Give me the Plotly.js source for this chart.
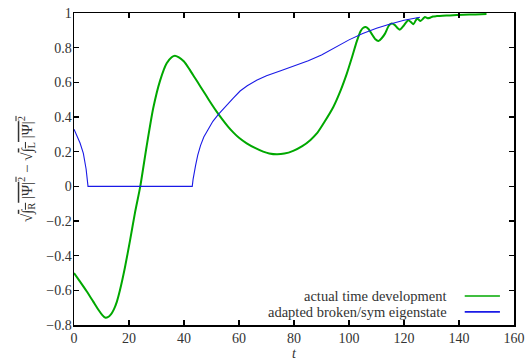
<!DOCTYPE html>
<html>
<head>
<meta charset="utf-8">
<script src="https://cdn.plot.ly/plotly-3.0.1.min.js"></script>
<style>
  html, body { margin: 0; padding: 0; background: #fff; }
  #chart { width: 527px; height: 362px; }
</style>
</head>
<body>
<div id="chart"></div>
<script>
// Asymmetry of the wave function between right and left well over time
const actualT = [0, 2, 4.6, 7, 9, 10.3, 11.3, 12.3, 13.5, 14.5, 15.6, 16.7, 18.5, 20.4, 22.2, 24.1, 26.4, 28.8, 31.3, 33.7, 35.5, 36.7, 38, 40, 42, 44, 46, 48, 50, 52, 54, 56, 58, 60, 62.8, 66, 68.8, 71, 73.7, 76.5, 79.7, 83, 86, 88.3, 91, 94.3, 97, 99.2, 101, 102.8, 104.2, 105.2, 106.1, 107.1, 108.3, 109.6, 110.7, 111.8, 113.1, 114.4, 115.5, 116.7, 117.7, 118.5, 119.8, 121.5, 122.5, 123.4, 124.2, 124.8, 126, 127, 127.6, 128.6, 129.5, 130.5, 131.9, 134, 136.7, 141.5, 146, 150];
const actualV = [-0.50, -0.545, -0.605, -0.665, -0.715, -0.743, -0.757, -0.755, -0.737, -0.71, -0.665, -0.60, -0.47, -0.31, -0.15, 0, 0.23, 0.45, 0.61, 0.71, 0.745, 0.754, 0.745, 0.72, 0.675, 0.625, 0.575, 0.525, 0.475, 0.428, 0.385, 0.345, 0.31, 0.28, 0.248, 0.22, 0.2, 0.19, 0.185, 0.189, 0.205, 0.232, 0.268, 0.305, 0.37, 0.458, 0.555, 0.65, 0.74, 0.835, 0.895, 0.915, 0.919, 0.908, 0.878, 0.848, 0.838, 0.853, 0.881, 0.925, 0.939, 0.93, 0.912, 0.904, 0.925, 0.958, 0.948, 0.935, 0.955, 0.968, 0.954, 0.968, 0.977, 0.97, 0.973, 0.98, 0.982, 0.984, 0.986, 0.99, 0.992, 0.994];

const adaptedT = [0, 1, 2.2, 3.4, 4.4, 5.1, 43.0, 43.3, 43.7, 44.2, 45, 46, 47.2, 48.7, 50.5, 52.5, 55.5, 58, 60.4, 63, 66.4, 70, 74.9, 80, 85.2, 90, 95, 100, 105, 110, 115, 120, 125.8];
const adaptedV = [0.33, 0.29, 0.25, 0.19, 0.10, 0, 0, 0.04, 0.08, 0.12, 0.18, 0.235, 0.285, 0.33, 0.375, 0.415, 0.47, 0.51, 0.55, 0.58, 0.612, 0.638, 0.665, 0.695, 0.725, 0.758, 0.8, 0.845, 0.882, 0.912, 0.937, 0.958, 0.975];

const legendLabels = ['actual time development', 'adapted broken/sym eigenstate'];
const green = '#00a800';
const blue = '#1a1ae6';

const xTicks = [0, 20, 40, 60, 80, 100, 120, 140, 160];
const yTicks = [-0.8, -0.6, -0.4, -0.2, 0, 0.2, 0.4, 0.6, 0.8, 1];

const serif = 'Liberation Serif, DejaVu Serif, serif';

const traces = [
  { x: actualT, y: actualV, mode: 'lines', name: legendLabels[0],
    line: { color: green, width: 2, shape: 'spline', smoothing: 0.6 } },
  { x: adaptedT, y: adaptedV, mode: 'lines', name: legendLabels[1],
    line: { color: blue, width: 1.1 } }
];

const axisCommon = {
  showgrid: false, zeroline: false, showline: true, linecolor: '#000', linewidth: 1.5,
  mirror: 'ticks', ticks: 'inside', ticklen: 5, tickcolor: '#000', tickwidth: 1.2,
  tickfont: { family: serif, size: 14, color: '#333' }
};

// Legend drawn as right-aligned labels followed by line samples
const legendRows = [0.093, 0.042];
const annotations = legendLabels.map((txt, i) => ({
  xref: 'paper', yref: 'paper', x: 0.852, y: legendRows[i], xanchor: 'right', yanchor: 'middle',
  text: txt, showarrow: false, font: { family: serif, size: 14.5, color: '#333' }
}));
const shapes = [green, blue].map((c, i) => ({
  type: 'line', xref: 'paper', yref: 'paper', x0: 0.888, x1: 0.968, y0: legendRows[i], y1: legendRows[i],
  line: { color: c, width: i === 0 ? 1.4 : 1.6 }
}));

const layout = {
  width: 527, height: 362,
  margin: { l: 74, r: 13, t: 13, b: 37 },
  paper_bgcolor: '#fff', plot_bgcolor: '#fff',
  showlegend: false,
  xaxis: Object.assign({}, axisCommon, {
    range: [0, 160], tickvals: xTicks, ticktext: xTicks.map(String),
    title: { text: '<i>t</i>', font: { family: serif, size: 14, color: '#333' }, standoff: 3 }
  }),
  yaxis: Object.assign({}, axisCommon, {
    range: [-0.8, 1], tickvals: yTicks, ticktext: yTicks.map(v => (v < 0 ? '\u2212' + Math.abs(v) : String(v))),
    ticklabelstandoff: -2,
    title: {
      text: '\u221A<span style="text-decoration:overline">\u222B<sub>R</sub> |\u03A8|<sup>2</sup></span> \u2212 \u221A<span style="text-decoration:overline">\u222B<sub>L</sub> |\u03A8|<sup>2</sup></span>',
      font: { family: serif, size: 15, color: '#333' }, standoff: 10
    }
  }),
  annotations: annotations,
  shapes: shapes
};

Plotly.newPlot('chart', traces, layout, { displayModeBar: false, staticPlot: true });
</script>
</body>
</html>
